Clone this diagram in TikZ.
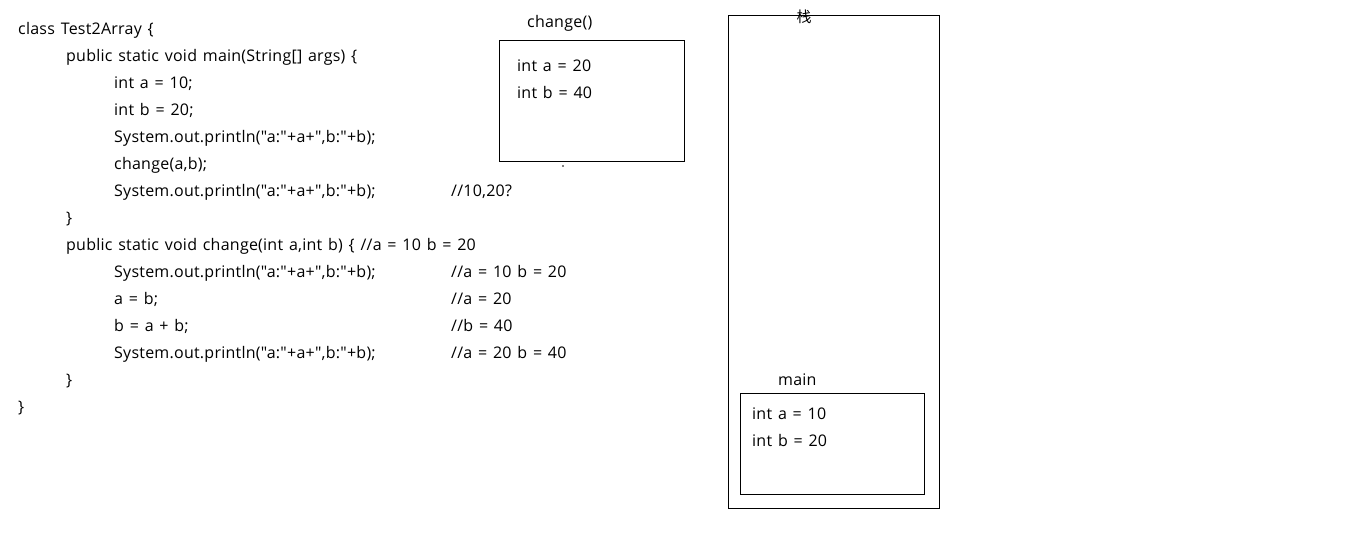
\documentclass[tikz,border=0pt]{standalone}
\usepackage{fontspec}
\setmainfont{Open Sans}[Ligatures=TeXOff, LetterSpace=1.5]
\newfontfamily\cjk{Noto Sans CJK SC}
\usetikzlibrary{positioning}

\newcommand\codefont{\fontsize{16}{19}\selectfont\spaceskip=5.8pt plus 1pt\relax}

\tikzset{
    code/.style={anchor=base west, inner sep=0, yshift=-5pt, font=\codefont},
    frame/.style={draw, line width=0.8pt}
}

\begin{document}
\begin{tikzpicture}[x=1pt, y=-1pt]
    \useasboundingbox (0,0) rectangle (1357,539);

    % source code
    \node [code] (l1) at (18,29) {class Test2Array \{};
    \node [code] (l2) at (66,56) {public static void main(String[] args) \{};
    \node [code] (l3) at (114,83) {int a = 10;};
    \node [code] (l4) at (114,110) {int b = 20;};
    \node [code] (l5) at (114,137) {System.out.println("a:"+a+",b:"+b);};
    \node [code] (l6) at (114,164) {change(a,b);};
    \node [code] (l7) at (114,191) {System.out.println("a:"+a+",b:"+b);};
    \node [code] (l8) at (66,218) {\}};
    \node [code] (l9) at (66,245) {public static void change(int a,int b) \{ //a = 10 b = 20};
    \node [code] (l10) at (114,272) {System.out.println("a:"+a+",b:"+b);};
    \node [code] (l11) at (114,299) {a = b;};
    \node [code] (l12) at (114,326) {b = a + b;};
    \node [code] (l13) at (114,353) {System.out.println("a:"+a+",b:"+b);};
    \node [code] (l14) at (66,380) {\}};
    \node [code] (l15) at (18,407) {\}};

    % comments
    \node [code] (c7) at (451,191) {//10,20?};
    \node [code] (c10) at (451,272) {//a = 10 b = 20};
    \node [code] (c11) at (451,299) {//a = 20};
    \node [code] (c12) at (451,326) {//b = 40};
    \node [code] (c13) at (451,353) {//a = 20 b = 40};

    % stack
    \draw [frame] (728,15) rectangle (939,508);
    \node [inner sep=0, font=\cjk\fontsize{15}{18}\selectfont] (stack) at (804,17) {栈};

    % frame of change()
    \draw [frame] (499,40) rectangle (684,161);
    \node [code] (changelbl) at (527,22) {change()};
    \node [code] (ca) at (517,66) {int a = 20};
    \node [code] (cb) at (517,93) {int b = 40};
    \fill (563,166) circle (0.8);

    % frame of main
    \draw [frame] (740,393) rectangle (924,494);
    \node [code] (mainlbl) at (778,380) {main};
    \node [code] (ma) at (752,414) {int a = 10};
    \node [code] (mb) at (752,441) {int b = 20};
\end{tikzpicture}
\end{document}
